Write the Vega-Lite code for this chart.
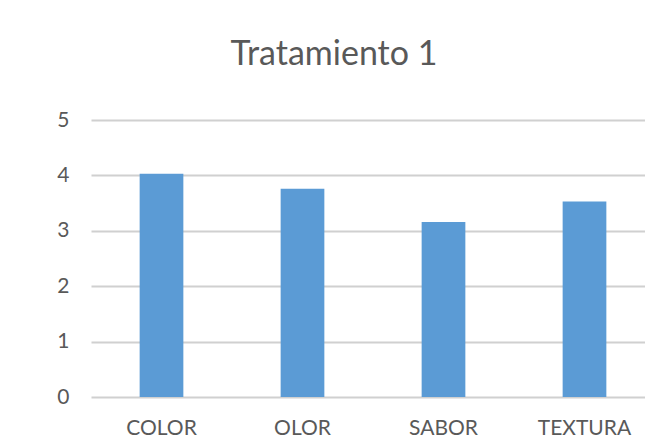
{
  "$schema": "https://vega.github.io/schema/vega-lite/v6.json",
  "autosize": {"type": "none"},
  "width": 564,
  "height": 277,
  "padding": {"left": 91, "top": 120, "right": 0, "bottom": 42},
  "background": "white",
  "title": {
    "text": "Tratamiento 1",
    "font": "Lato",
    "fontSize": 34,
    "fontWeight": "normal",
    "color": "#595959",
    "anchor": "middle",
    "dx": -39,
    "baseline": "alphabetic",
    "offset": 10
  },
  "data": {
    "values": [
      {"atributo": "COLOR", "valor": 4.03},
      {"atributo": "OLOR", "valor": 3.76},
      {"atributo": "SABOR", "valor": 3.16},
      {"atributo": "TEXTURA", "valor": 3.53}
    ]
  },
  "mark": {"type": "bar", "color": "#5b9bd5"},
  "encoding": {
    "x": {
      "field": "atributo",
      "type": "nominal",
      "sort": null,
      "scale": {"paddingInner": 0.69, "paddingOuter": 0.345},
      "axis": {
        "title": null,
        "labelAngle": 0,
        "labelFont": "Lato",
        "labelFontSize": 21,
        "labelColor": "#595959",
        "labelPadding": 20,
        "ticks": false,
        "domain": false,
        "grid": false
      }
    },
    "y": {
      "field": "valor",
      "type": "quantitative",
      "scale": {"domain": [0, 5], "nice": false},
      "axis": {
        "title": null,
        "values": [0, 1, 2, 3, 4, 5],
        "labelFont": "Lato",
        "labelFontSize": 21,
        "labelColor": "#595959",
        "labelPadding": 22,
        "ticks": false,
        "domain": false,
        "grid": true,
        "gridColor": "#d0d0d0",
        "gridWidth": 2
      }
    }
  },
  "config": {"view": {"stroke": null}}
}
